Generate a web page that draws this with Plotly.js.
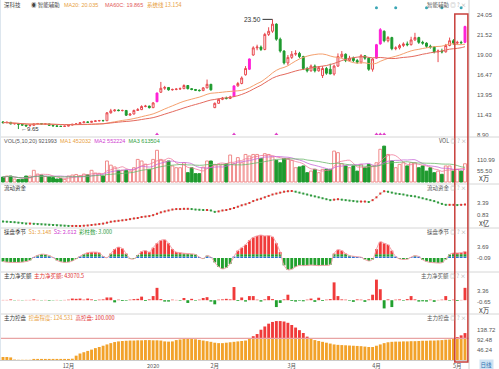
<!DOCTYPE html>
<html><head><meta charset="utf-8">
<script src="https://cdn.plot.ly/plotly-3.0.1.min.js"></script>
<style>html,body{margin:0;padding:0;background:#fff;overflow:hidden}#chart{width:499px;height:369px}</style>
</head><body><div id="chart"></div>
<script>
// ---------- DATA ----------
const openP  = [10.55,10.45,10.50,10.30,10.35,10.25,10.15,10.05,10.12,10.30,10.35,10.28,10.30,10.12,10.05,10.00,9.98,10.02,10.15,10.25,10.30,10.45,10.55,10.50,10.62,10.68,10.72,10.70,11.70,11.95,12.05,11.98,12.00,11.40,11.55,12.00,12.10,12.50,12.55,12.35,13.10,14.30,14.80,14.90,14.60,14.65,14.70,14.75,15.15,14.75,14.65,14.55,14.50,14.85,15.30,12.35,12.90,13.40,13.55,13.50,13.75,15.10,15.40,16.50,17.20,19.00,19.90,20.00,19.70,21.60,22.00,22.90,21.00,19.50,18.00,18.70,19.10,19.20,18.80,17.30,17.00,17.60,17.00,16.40,17.30,17.20,16.60,17.60,18.80,19.10,18.30,18.60,18.30,18.10,18.90,18.60,17.20,18.60,20.40,22.00,20.80,21.20,19.80,19.90,20.20,20.40,20.30,20.90,21.20,20.60,20.50,20.10,20.00,19.40,19.50,19.40,20.20,20.80,20.50,20.60,20.60];
const highP  = [10.65,10.60,10.55,10.42,10.40,10.30,10.20,10.20,10.35,10.42,10.40,10.36,10.33,10.18,10.10,10.05,10.08,10.20,10.30,10.38,10.50,10.60,10.62,10.68,10.75,10.80,10.82,11.80,12.20,12.15,12.12,12.10,12.02,11.65,12.10,12.30,12.65,12.70,12.60,13.05,14.25,15.60,15.10,14.95,14.75,14.80,14.90,15.30,15.20,14.80,14.70,14.65,14.95,15.90,15.35,13.00,13.50,13.70,13.75,13.85,15.15,15.60,16.30,17.60,18.55,20.10,20.30,20.20,21.80,22.50,23.50,23.00,21.20,19.60,19.00,19.50,19.60,19.40,18.90,17.50,17.80,17.80,17.60,17.60,17.50,17.90,17.80,19.20,19.50,19.20,18.90,18.80,18.50,19.10,19.00,18.70,18.60,20.40,22.40,22.10,21.40,21.30,20.10,20.40,20.60,20.70,21.30,21.80,21.30,20.80,20.60,20.30,20.10,19.70,19.80,20.40,21.20,21.00,20.80,20.80,22.70];
const lowP   = [10.40,10.38,10.25,10.22,9.65,10.08,9.95,10.00,10.08,10.25,10.22,10.22,10.08,10.00,9.95,9.92,9.92,9.98,10.10,10.20,10.25,10.40,10.45,10.45,10.58,10.62,10.65,10.68,11.60,11.85,11.90,11.88,11.30,11.35,11.50,11.95,12.05,12.40,12.25,12.30,13.05,14.20,14.60,14.50,14.50,14.55,14.62,14.70,14.65,14.55,14.45,14.40,14.45,14.80,14.50,12.30,12.85,13.30,13.40,13.45,13.70,15.00,15.30,16.40,17.10,18.90,19.60,19.50,19.60,21.40,21.80,20.80,19.30,17.80,17.70,18.50,18.90,18.60,17.10,16.80,16.90,16.80,16.90,16.10,16.50,16.60,16.40,17.50,18.60,18.10,18.20,18.10,17.90,17.90,18.40,17.00,16.90,18.50,20.30,20.60,20.60,19.60,19.60,19.70,20.00,20.10,20.20,20.80,20.40,20.30,19.90,19.80,19.20,18.10,19.20,19.30,20.10,20.30,20.30,20.40,20.50];
const closeP = [10.45,10.50,10.30,10.35,10.25,10.15,10.05,10.12,10.30,10.35,10.28,10.30,10.12,10.05,10.00,9.98,10.02,10.15,10.25,10.30,10.45,10.55,10.50,10.62,10.68,10.72,10.70,11.70,11.95,12.05,11.98,12.00,11.40,11.55,12.00,12.10,12.50,12.55,12.35,12.95,14.20,14.80,14.90,14.60,14.65,14.70,14.75,15.15,14.75,14.65,14.55,14.50,14.85,15.30,14.60,12.90,13.40,13.55,13.50,13.70,15.10,15.40,16.10,17.30,18.50,19.90,20.00,19.70,21.60,22.00,22.90,21.00,19.50,18.00,18.70,19.10,19.20,18.80,17.30,17.00,17.60,17.00,17.40,17.30,16.70,16.60,17.60,18.80,19.10,18.30,18.60,18.30,18.10,18.90,18.60,17.20,18.50,20.30,22.20,20.80,21.20,19.80,19.90,20.20,20.40,20.30,20.90,21.20,20.60,20.50,20.10,20.00,19.40,19.50,19.40,20.20,20.80,20.50,20.60,20.55,22.60];
const signalCandleIdx = [40,60,64,97,98,120];   // magenta candles
const topSignalIdx = [97,102,110,114,119];
const bottomSignalIdx = [40,60,71,97,98,99];
const lowMarkIdx = 4;
const highMarkIdx = 70;

const volume = [25,30,30,15,12,13,30,30,59,40,35,28,25,22,15,17,13,30,35,38,32,40,36,59,45,42,30,106,85,76,59,59,59,55,72,114,106,90,64,114,160,114,106,106,81,72,72,97,47,72,42,42,75,106,106,89,89,89,92,136,92,123,97,139,131,139,139,119,143,139,126,109,97,119,119,109,72,76,81,47,55,64,47,64,64,64,156,148,92,81,72,81,55,89,72,89,81,97,165,181,139,106,72,89,97,81,97,97,72,81,55,72,47,55,39,81,81,55,64,55,92];
const flowFund = [-0.55,-0.6,-0.65,-0.7,-0.8,-0.9,-1.0,-1.0,-1.05,-1.1,-1.15,-1.2,-1.25,-1.3,-1.35,-1.4,-1.45,-1.5,-1.5,-1.5,-1.5,-1.45,-1.4,-1.3,-1.2,-1.1,-1.0,-0.8,-0.6,-0.5,-0.4,-0.3,-0.2,-0.05,0.1,0.2,0.4,0.5,0.6,0.8,1.1,1.4,1.6,1.8,2.0,2.1,2.1,2.15,2.15,2.1,2.0,1.95,1.9,1.9,1.8,1.5,1.6,1.8,1.9,2.1,2.3,2.6,2.9,3.1,3.4,3.8,4.1,4.3,4.6,4.9,5.2,5.4,5.6,5.8,5.9,5.95,5.8,5.6,5.4,5.2,5.0,4.8,4.6,4.4,4.2,4.0,4.1,4.2,4.1,4.0,3.9,3.8,3.7,3.7,3.7,3.6,4.0,4.6,5.4,5.9,5.8,5.6,5.4,5.3,5.2,5.0,4.9,4.8,4.6,4.4,4.2,4.0,3.8,3.5,3.2,3.0,3.0,3.0,2.95,3.0,3.05];
const season = [-1.2,-1.4,-1.5,-1.5,-1.5,-1.4,-1.2,-0.8,0.3,0.9,1.3,1.2,0.8,0.2,-0.8,-1.3,-1.5,-1.4,-1.0,-0.3,0.6,1.3,1.8,2.0,2.0,1.8,0.6,0.1,1.5,3.0,3.7,3.2,1.5,-0.2,-0.3,1.0,2.2,2.5,2.0,3.5,5.0,6.0,6.2,5.0,3.0,2.0,1.8,1.6,1.5,1.4,1.2,0.3,-0.2,0.8,0.3,-1.5,-3.0,-3.7,-3.3,-2.0,0.5,2.5,3.5,4.5,6.0,7.0,7.5,7.8,7.5,7.6,7.2,5.0,2.0,-2.5,-4.0,-3.8,-3.0,-2.5,-2.6,-2.5,-2.4,-2.5,-2.6,-2.5,-2.5,-2.3,1.5,2.8,2.5,1.5,0.8,0.6,0.4,0.3,-0.5,-1.0,-0.5,3.0,5.5,5.0,4.5,2.5,0.5,-0.3,-0.5,-0.4,0.3,0.8,0.5,-0.6,-1.2,-1.5,-1.6,-1.7,-1.6,-0.5,1.2,1.7,1.7,1.8,2.2];
const netBuy = [0.1,0.1,0.3,-0.1,0.1,-0.1,0.1,0.1,0.3,0.1,-0.1,0.1,-0.2,-0.1,0.1,-0.1,0.1,0.2,0.6,0.5,0.6,0.2,0.6,0.3,-0.2,0.2,0.3,1.0,1.0,-0.8,0.2,-0.3,-0.2,0.2,0.4,0.5,1.3,-0.3,0.3,1.5,4.5,0.4,-0.5,-0.5,0.2,0.1,-0.2,0.8,-1.0,0.5,-0.2,0.2,0.8,1.1,-0.5,-1.5,0.2,0.3,0.5,0.3,4.8,-0.3,1.0,-0.5,1.5,1.5,0.2,-0.5,0.3,1.5,0.4,-2.5,-1.0,0.3,2.0,-0.3,-0.5,-0.2,-0.4,0.2,0.6,-0.6,0.9,-0.3,0.2,0.4,6.5,1.5,0.3,0.2,-0.2,-0.6,0.3,0.2,-0.6,0.3,2.0,7.5,4.0,-3.0,0.3,-2.5,0.2,0.3,-0.2,0.4,1.5,0.3,-0.5,-0.4,-0.5,0.2,-0.6,0.1,0.2,1.5,-0.2,0.2,-0.3,0.1,4.5];
const control = [14,14,12,2,1,1,1,1,5,5,5,5,5,5,5,5,5,5,6,20,30,36,42,48,55,60,66,72,78,83,86,88,89,90,90,91,91,92,92,91,91,90,86,85,86,92,95,97,97,97,96,93,90,87,84,80,78,78,80,82,84,86,88,90,100,110,120,140,155,168,176,180,180,178,172,162,150,138,125,108,100,92,88,84,80,76,72,70,69,68,67,66,65,64,62,60,60,66,72,78,82,84,85,85,86,86,87,87,88,89,89,90,90,91,92,94,95,98,106,114,124.5];
const highControl = 100;
const monthTickIdx = [17,39,55,75,97,118];
const monthTickText = ['12月','2020','2月','3月','4月','5月'];
const priceTicks = [24.05,21.52,19.00,16.47,13.95,11.43,8.90];
const volTicks = [55.50,110.99];
const flowTicks = [0.83,3.39];
const seasonTicks = [-0.09,3.69];
const netTicks = [-0.65,3.36];
const ctrlTicks = [46.24,92.48,138.72];

// ---------- HELPERS ----------
const N = closeP.length;
const idx = Array.from({length:N},(_,i)=>i);
function ma(a,n){return a.map((_,i)=>{const s=Math.max(0,i-n+1);let t=0;for(let k=s;k<=i;k++)t+=a[k];return t/(i-s+1);});}
const PW=469, PH=360;
const px = x => x/PW;
const py = y => (PH-y)/PH;
const RED='#e8474d', GREEN='#1e9a2e', MAG='#ff1fd6';
const FONT='Noto Sans CJK SC, Liberation Sans, sans-serif';
const LAT='Liberation Sans, Noto Sans CJK SC, sans-serif';
const isUp = i => closeP[i] >= openP[i];
const sig = new Set(signalCandleIdx);
const normIdx = idx.filter(i=>!sig.has(i));

const traces = [];
traces.push({type:'candlestick', x:normIdx, open:normIdx.map(i=>openP[i]), high:normIdx.map(i=>highP[i]), low:normIdx.map(i=>lowP[i]), close:normIdx.map(i=>closeP[i]),
  increasing:{line:{color:RED,width:1},fillcolor:'#ffffff'}, decreasing:{line:{color:GREEN,width:1},fillcolor:GREEN},
  whiskerwidth:0, xaxis:'x', yaxis:'y', hoverinfo:'skip', showlegend:false});
traces.push({type:'candlestick', x:signalCandleIdx, open:signalCandleIdx.map(i=>openP[i]), high:signalCandleIdx.map(i=>highP[i]), low:signalCandleIdx.map(i=>lowP[i]), close:signalCandleIdx.map(i=>closeP[i]),
  increasing:{line:{color:MAG,width:1},fillcolor:MAG}, decreasing:{line:{color:MAG,width:1},fillcolor:MAG},
  whiskerwidth:0, xaxis:'x', yaxis:'y', hoverinfo:'skip', showlegend:false});
traces.push({type:'scatter',mode:'lines',x:idx,y:ma(closeP,20),line:{color:'#f5a06e',width:1,shape:'spline'},yaxis:'y',showlegend:false,hoverinfo:'skip'});
traces.push({type:'scatter',mode:'lines',x:idx,y:ma(closeP,30),line:{color:'#e46a5e',width:1,shape:'spline'},yaxis:'y',showlegend:false,hoverinfo:'skip'});
traces.push({type:'scatter',mode:'markers',x:topSignalIdx,y:topSignalIdx.map(()=>24.95),marker:{color:'#3aa6b5',size:3},yaxis:'y',showlegend:false,hoverinfo:'skip'});
traces.push({type:'scatter',mode:'markers',x:bottomSignalIdx,y:bottomSignalIdx.map(()=>9.0),marker:{color:'#e040c8',size:3.5,symbol:'triangle-up'},yaxis:'y',showlegend:false,hoverinfo:'skip'});

traces.push({type:'bar',x:idx,y:volume,yaxis:'y2',marker:{color:idx.map(i=>isUp(i)?'#ffffff':GREEN),line:{color:idx.map(i=>isUp(i)?'#f08a8a':GREEN),width:1}},showlegend:false,hoverinfo:'skip'});
traces.push({type:'scatter',mode:'lines',x:idx,y:ma(volume,5),yaxis:'y2',line:{color:'#f07a9a',width:0.8,shape:'spline'},showlegend:false,hoverinfo:'skip'});
traces.push({type:'scatter',mode:'lines',x:idx,y:ma(volume,10),yaxis:'y2',line:{color:'#c86ad8',width:0.8,shape:'spline'},showlegend:false,hoverinfo:'skip'});
traces.push({type:'scatter',mode:'lines',x:idx,y:ma(volume,20),yaxis:'y2',line:{color:'#6ab86a',width:0.8,shape:'spline'},showlegend:false,hoverinfo:'skip'});

traces.push({type:'scatter',mode:'lines',x:idx,y:flowFund,yaxis:'y3',line:{color:'#d4e8d4',width:1},showlegend:false,hoverinfo:'skip'});
traces.push({type:'scatter',mode:'markers',x:idx,y:flowFund,yaxis:'y3',marker:{symbol:'square',size:2,color:idx.map(i=>(i>0&&flowFund[i]>=flowFund[i-1])?'#e03030':'#2e9a3e')},showlegend:false,hoverinfo:'skip'});

const sBlue = season.map(v=>v>0?Math.min(v,0.5):0);
const sGreen = season.map(v=>v>0?Math.min(Math.max(v-0.5,0),0.8):v);
const sRed = season.map(v=>v>1.3?v-1.3:0);
traces.push({type:'bar',x:idx,y:sBlue,yaxis:'y4',marker:{color:'#2f6fd6'},showlegend:false,hoverinfo:'skip'});
traces.push({type:'bar',x:idx,y:sGreen,yaxis:'y4',marker:{color:'#22a02e'},showlegend:false,hoverinfo:'skip'});
traces.push({type:'bar',x:idx,y:sRed,yaxis:'y4',marker:{color:'#f03a3a'},showlegend:false,hoverinfo:'skip'});
traces.push({type:'scatter',mode:'lines',x:idx,y:season,yaxis:'y4',line:{color:'#f4a0a8',width:1,shape:'spline'},showlegend:false,hoverinfo:'skip'});

traces.push({type:'bar',x:idx,y:netBuy,yaxis:'y5',marker:{color:netBuy.map(v=>v>=0?'#f03a3a':'#22a02e')},showlegend:false,hoverinfo:'skip'});

traces.push({type:'bar',x:idx,y:control.map(v=>Math.min(v,highControl)),yaxis:'y6',marker:{color:'#f2a22a'},showlegend:false,hoverinfo:'skip'});
traces.push({type:'bar',x:idx,y:control.map(v=>Math.max(v-highControl,0)),yaxis:'y6',marker:{color:'#f03a3a'},showlegend:false,hoverinfo:'skip'});
traces.push({type:'scatter',mode:'lines',x:[-1,N],y:[highControl,highControl],yaxis:'y6',line:{color:'#e8a4a4',width:1.2},showlegend:false,hoverinfo:'skip'});

// ---------- LAYOUT ----------
const tickF = {size:6,color:'#555',family:LAT};
function yax(top,bottom,range,tv){
  return {domain:[py(bottom),py(top)],range:range,side:'right',anchor:'x',tickvals:tv,ticktext:tv.map(v=>v.toFixed(2)),
    tickfont:tickF,showgrid:false,zeroline:false,showline:false,ticks:'',ticklabelstandoff:7,fixedrange:true};
}
const layout = {
  width:499,height:369,margin:{l:0,r:30,t:0,b:9},paper_bgcolor:'#fff',plot_bgcolor:'#fff',
  barmode:'relative',bargap:0.25,showlegend:false,font:{family:FONT},
  xaxis:{range:[-0.78,121.04],anchor:'y6',rangeslider:{visible:false},tickvals:monthTickIdx,ticktext:monthTickText,
    tickfont:{size:5.5,color:'#555',family:FONT},showgrid:false,zeroline:false,showline:true,linecolor:'#ccc',ticks:'',ticklabelstandoff:0,fixedrange:true},
  yaxis: yax(0,137,[24.05-(137-15)*0.12625,24.05+15*0.12625],priceTicks),
  yaxis2: yax(137,184,[-(184-182)*5.045,(182-137)*5.045],volTicks),
  yaxis3: yax(184,228,[3.39-(228-203)*0.213,3.39+(203-184)*0.213],flowTicks),
  yaxis4: yax(228,272,[-(272-258)*0.34,(258-228)*0.34],seasonTicks),
  yaxis5: yax(272,314,[-(314-300.2)*0.3645,(300.2-272)*0.3645],netTicks),
  yaxis6: yax(314,360,[0,46*4.624],ctrlTicks),
  shapes:[], annotations:[]
};
[137,184,228,272,314].forEach(y=>layout.shapes.push({type:'line',xref:'paper',yref:'paper',x0:0,x1:499/PW,y0:py(y),y1:py(y),line:{color:'#d6d6d6',width:1}}));
layout.shapes.push({type:'line',xref:'paper',yref:'paper',x0:1,x1:1,y0:py(369),y1:1,line:{color:'#d0d0d0',width:1}});
layout.shapes.push({type:'line',xref:'paper',yref:'paper',x0:0.001,x1:0.001,y0:0,y1:1,line:{color:'#dde6ee',width:1}});
layout.shapes.push({type:'rect',xref:'x',yref:'paper',x0:117.35,x1:120.75,y0:py(362),y1:py(14),line:{color:'#c8403c',width:1.5},fillcolor:'rgba(0,0,0,0)'});

function ann(x,y,text,color,size,xanchor,extra,fam){
  layout.annotations.push(Object.assign({xref:'paper',yref:'paper',x:px(x),y:py(y),text:text,showarrow:false,xanchor:xanchor||'left',yanchor:'middle',
    font:{size:size||6,color:color||'#333',family:fam||FONT}},extra||{}));
}
const ICON = ' <span style="color:#aaa">◎ ? ×</span>';
ann(2,5,'深科技','#444',5.5);
ann(29,5,'◉ 智能辅助','#444',5.5);
ann(62,5,'MA20: 20.035','#e8a040',5.5,'left',null,LAT);
ann(103,5,'MA60C: 19.865','#e25a5a',5.5,'left',null,LAT);
ann(145,5,'系统线 13.154','#e8a040',5.5);
ann(468,5,'智能辅助'+ICON,'#555',5.5,'right');
ann(2,141,'VOL(5,10,20) 921993  <span style="color:#e8a040">MA1 452032</span>  <span style="color:#d040d0">MA2 552224</span>  <span style="color:#30a040">MA3 613504</span>','#555',5.5,'left',null,LAT);
ann(468,141,'VOL'+ICON,'#555',5.5,'right');
ann(2,188,'流动资金','#333',5.5);
ann(468,188,'流动资金'+ICON,'#555',5.5,'right');
ann(2,232,'操盘季节  <span style="color:#e8a040">S1: 3.148</span>  <span style="color:#d040d0">S2: 2.612</span>  <span style="color:#30a040">彩柱数: 3.000</span>','#333',5.5);
ann(468,232,'操盘季节'+ICON,'#555',5.5,'right');
ann(2,276,'主力净买额  <span style="color:#e03030">主力净买额: 43070.5</span>','#333',5.5);
ann(468,276,'主力净买额'+ICON,'#555',5.5,'right');
ann(2,318,'主力控盘  <span style="color:#e8a040">控盘程度: 124.531</span>  <span style="color:#e03030">高控盘: 100.000</span>','#333',5.5);
ann(468,318,'主力控盘'+ICON,'#555',5.5,'right');
ann(477,178,'X万','#333',6.5);
ann(477,223,'X亿','#333',6.5);
ann(477,310,'X万','#333',6.5);
ann(479,364,'日线','#2a6fb0',5.5,'left',{bgcolor:'#cfe3f3',borderpad:0.5});
layout.annotations.push({xref:'x',yref:'y',x:highMarkIdx,y:highP[highMarkIdx],text:highP[highMarkIdx].toFixed(2),showarrow:true,arrowhead:0,arrowwidth:1,arrowcolor:'#333',ax:-10,ay:0,xanchor:'right',font:{size:6.5,color:'#333',family:LAT}});
layout.annotations.push({xref:'x',yref:'y',x:lowMarkIdx,y:lowP[lowMarkIdx],text:'←'+lowP[lowMarkIdx].toFixed(2),showarrow:false,xanchor:'left',yanchor:'middle',xshift:1,font:{size:6,color:'#333',family:LAT}});

Plotly.newPlot('chart',traces,layout,{staticPlot:true,displayModeBar:false});
</script></body></html>
